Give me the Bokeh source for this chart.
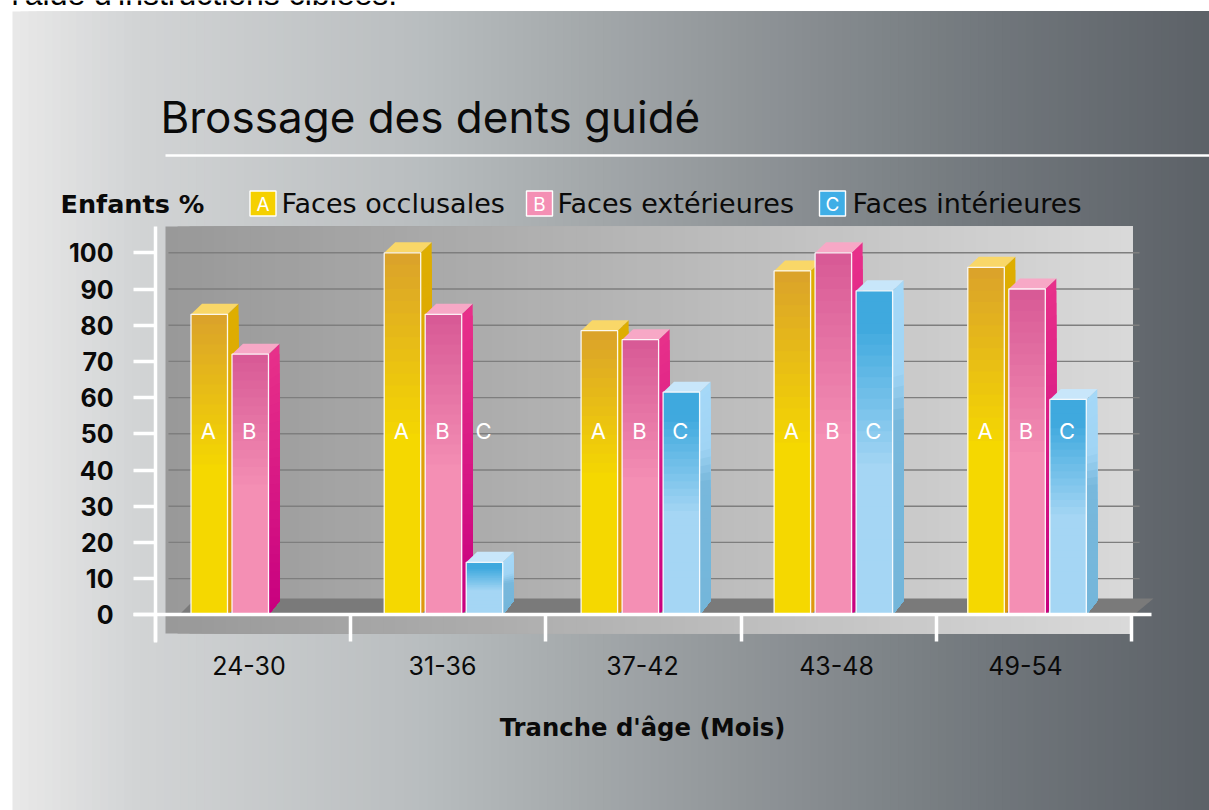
from bokeh.plotting import figure
from bokeh.models import LinearAxis, FixedTicker
from bokeh.core.properties import value
from bokeh.embed import file_html
from bokeh.resources import INLINE

# ---- data ----
page_text = "l'aide d'instructions ciblées."
title = "Brossage des dents guidé"
y_title = "Enfants %"
x_title = "Tranche d'âge (Mois)"
age_groups = ["24-30", "31-36", "37-42", "43-48", "49-54"]
series_names = ["Faces occlusales", "Faces extérieures", "Faces intérieures"]
series_letters = ["A", "B", "C"]
faces_occlusales = [83, 100, 78.5, 95, 96]
faces_exterieures = [72, 83, 76, 100, 90]
faces_interieures = [None, 14.5, 61.5, 89.5, 59.5]
y_ticks = [0, 10, 20, 30, 40, 50, 60, 70, 80, 90, 100]

# ---- layout (page px -> data) ----
W, H = 1209, 810
X0, XS = 155.0, 195.2      # page x of group 0, px per group
Y0, YS = 614.3, 3.62       # page y of value 0, px per unit
def dx(px): return (px - X0) / XS
def dy(py): return (Y0 - py) / YS

p = figure(width=W, height=H, output_backend="svg", toolbar_location=None,
           x_range=(dx(0), dx(W)), y_range=(dy(H), dy(0)),
           min_border=0, outline_line_color=None,
           background_fill_color="white", border_fill_color="white")
p.xaxis.visible = False
p.yaxis.visible = False
p.xgrid.visible = False
p.ygrid.visible = False


def hex2(c): return tuple(int(c[i:i + 2], 16) for i in (1, 3, 5))
def ramp(stops, f):
    for (f0, c0), (f1, c1) in zip(stops, stops[1:]):
        if f <= f1:
            t = 0 if f1 == f0 else (f - f0) / (f1 - f0)
            a, b = hex2(c0), hex2(c1)
            return "#%02x%02x%02x" % tuple(round(a[i] + (b[i] - a[i]) * t) for i in range(3))
    return stops[-1][1]


# page background (left-to-right gradient)
bg_stops = [(0, "#e8e8e8"), (0.10, "#d2d4d5"), (0.33, "#babec0"),
            (0.58, "#94999c"), (0.82, "#70767b"), (1, "#5c6167")]
N = 150
L, R = 12, W
xs = [L + (R - L) * i / N for i in range(N)]
bg = p.quad(left=[dx(x) for x in xs], right=[dx(R)] * N, top=[dy(11)] * N, bottom=[dy(H)] * N,
            fill_color=[ramp(bg_stops, i / N) for i in range(N)], line_color=None)
bg.level = "image"

# back wall
wall_stops = [(0, "#999999"), (0.45, "#b4b4b4"), (1, "#dadada")]
N = 80
L, R = 165, 1132
xs = [L + (R - L) * i / N for i in range(N)]
wall = p.quad(left=[dx(x) for x in xs], right=[dx(R)] * N, top=[dy(226)] * N, bottom=[dy(633)] * N,
              fill_color=[ramp(wall_stops, i / N) for i in range(N)], line_color=None)
wall.level = "image"

# gridlines
grid_vals = [t for t in y_ticks if t > 0]
gl = p.segment(x0=[dx(168)] * len(grid_vals), x1=[dx(1139)] * len(grid_vals), y0=grid_vals, y1=grid_vals,
               line_color="#7e7e7e", line_width=1.4)
gl.level = "underlay"

# floor
p.patch(x=[dx(180), dx(195), dx(1153), dx(1135)], y=[dy(613), dy(598), dy(598), dy(613)],
        fill_color="#7a7a7a", line_color=None)

# bars
BAR_W = 36.5 / XS
SIDE_X = 11 / XS
SIDE_Y = 10.5 / YS
BASE_Y = 14 / YS
group_shift = [35.5, 33.5, 35.2, 33, 31.5]
STEP = 41 / XS
front = [[(0, "#dba32a"), (0.52, "#f5d800"), (1, "#f5d800")],
         [(0, "#d85a96"), (0.52, "#f48fb4"), (1, "#f48fb4")],
         [(0, "#3fa9de"), (0.10, "#3fa9de"), (0.55, "#a5d6f4"), (1, "#a5d6f4")]]
side = [[(0, "#deae00"), (1, "#de9810")],
        [(0, "#e7308a"), (1, "#c8007f")],
        [(0, "#a5d8f7"), (0.25, "#a0d4f4"), (0.40, "#78b8dc"), (1, "#74b6da")]]
cap = ["#f9d768", "#f7a8c6", "#c8e6fa"]
BANDS = 30

all_series = [faces_occlusales, faces_exterieures, faces_interieures]
for s, vals in enumerate(all_series):
    for g, v in enumerate(vals):
        if v is None:
            continue
        left = g + group_shift[g] / XS + s * STEP
        right = left + BAR_W
        tops = [v * (BANDS - i) / BANDS for i in range(BANDS)]
        fracs = [i / (BANDS - 1) for i in range(BANDS)]
        # side face: the colour bands level out towards the foot of the bar
        p.patches(xs=[[right, right + SIDE_X, right + SIDE_X, right] for _ in tops],
                  ys=[[0, BASE_Y, max(BASE_Y, t + SIDE_Y * (t / v) ** 4), t] for t in tops],
                  fill_color=[ramp(side[s], f) for f in fracs], line_color=None)
        # top face
        p.patch(x=[left, left + SIDE_X, right + SIDE_X, right],
                y=[v, v + SIDE_Y, v + SIDE_Y, v], fill_color=cap[s], line_color=None)
        # front face
        p.quad(left=[left] * BANDS, right=[right] * BANDS, bottom=[0] * BANDS, top=tops,
               fill_color=[ramp(front[s], f) for f in fracs], line_color=None)
        p.quad(left=[left], right=[right], bottom=[0], top=[v], fill_alpha=0,
               line_color="white", line_width=1.3, line_alpha=0.9)
        p.text(x=[(left + right) / 2 - 1 / XS], y=[50.7], text=[series_letters[s]], text_color="white",
               text_font=value("Inter"), text_font_size="22px",
               text_align="center", text_baseline="middle")

# axes
yax = LinearAxis(ticker=FixedTicker(ticks=y_ticks), fixed_location=dx(155),
                 bounds=(dy(642), dy(226)))
yax.axis_line_color = "white"
yax.axis_line_width = 3.5
yax.major_tick_line_color = "white"
yax.major_tick_line_width = 3.5
yax.major_tick_out = 22
yax.major_tick_in = 0
yax.minor_tick_line_color = None
yax.major_label_standoff = 20
yax.major_label_text_font = "Inter"
yax.major_label_text_font_style = "bold"
yax.major_label_text_font_size = "25px"
yax.major_label_text_color = "#0a0a0a"
p.add_layout(yax, "left")

xax = LinearAxis(ticker=FixedTicker(ticks=list(range(6))), fixed_location=0,
                 bounds=(dx(133), dx(1151)))
xax.axis_line_color = "white"
xax.axis_line_width = 3.5
xax.major_tick_line_color = "white"
xax.major_tick_line_width = 3.5
xax.major_tick_out = 27
xax.major_tick_in = 0
xax.minor_tick_line_color = None
xax.major_label_text_alpha = 0
xax.major_label_text_font_size = "1px"
p.add_layout(xax, "below")

label_pos = [dx(248.5), dx(442), dx(642), dx(836), dx(1025)]
lax = LinearAxis(ticker=FixedTicker(ticks=label_pos), fixed_location=0,
                 major_label_overrides=dict(zip(label_pos, age_groups)))
lax.axis_line_color = None
lax.major_tick_line_color = None
lax.minor_tick_line_color = None
lax.major_tick_out = 0
lax.major_tick_in = 0
lax.major_label_standoff = 41
lax.major_label_text_font = "Inter"
lax.major_label_text_font_size = "25px"
lax.major_label_text_color = "#0a0a0a"
p.add_layout(lax, "below")


def label(px, py, txt, size, style="normal", color="#0a0a0a", align="left", font="Inter"):
    p.text(x=[dx(px)], y=[dy(py)], text=[txt], text_color=color, text_font=value(font),
           text_font_size=size, text_font_style=style, text_align=align, text_baseline="middle")


# line of surrounding page text, cut by the top edge as in the reference
label(11, -7, page_text, "32px", color="black", font="Liberation Sans")

# title + rule
label(160, 116, title, "44px")
p.segment(x0=[dx(165)], x1=[dx(W)], y0=[dy(155)], y1=[dy(155)], line_color="white", line_width=2.6)

# legend + axis titles
label(60, 203, y_title, "25.5px", "bold", font="DejaVu Sans")
label(642, 727, x_title, "24.3px", "bold", align="center", font="DejaVu Sans")
swatch_left = [249.5, 526, 819]
text_left = [281, 557, 852]
swatch_col = ["#f5d000", "#f48fb4", "#3faee6"]
for s in range(3):
    p.quad(left=[dx(swatch_left[s])], right=[dx(swatch_left[s] + 26)], top=[dy(190.5)], bottom=[dy(215.5)],
           fill_color=swatch_col[s], line_color="white", line_width=1.4)
    label(swatch_left[s] + 13, 204, series_letters[s], "19px", color="white", align="center")
    label(text_left[s], 203, series_names[s], "27px", font="DejaVu Sans")

open("out.html", "w").write(file_html(p, INLINE))
